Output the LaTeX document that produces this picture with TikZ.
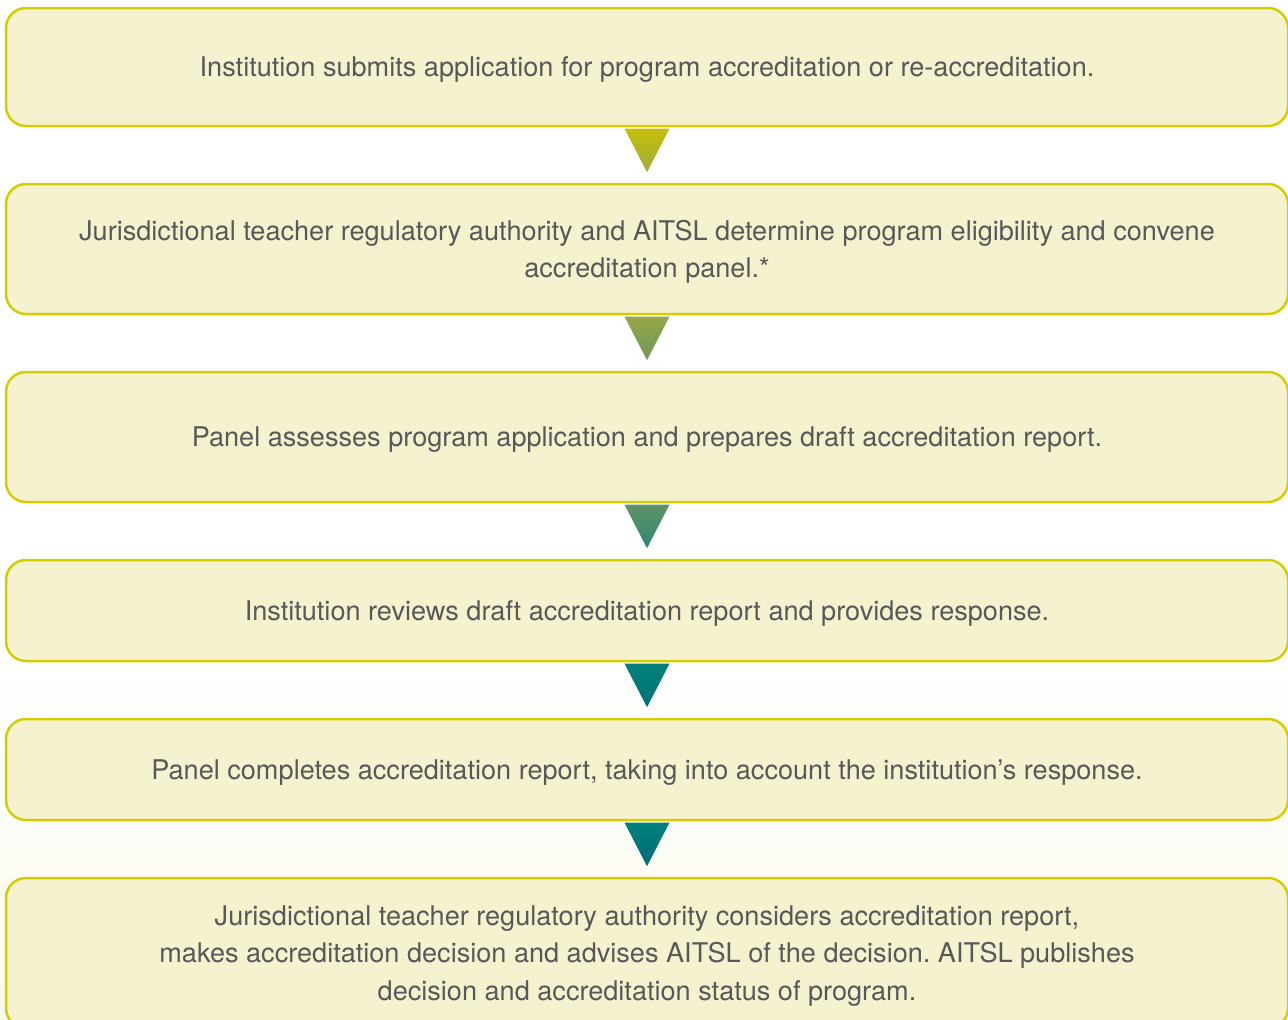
\documentclass[tikz,border=0pt]{standalone}
\usepackage{fontspec}
\setmainfont{TeX Gyre Heros}
\usetikzlibrary{positioning,calc}

\definecolor{boxedge}{RGB}{214,205,0}
\definecolor{boxfill}{RGB}{245,242,208}
\definecolor{boxtext}{RGB}{88,88,88}
\definecolor{bgfade}{RGB}{250,250,238}
\definecolor{triAtop}{RGB}{197,190,10}
\definecolor{triAbot}{RGB}{160,172,58}
\definecolor{triBtop}{RGB}{150,165,70}
\definecolor{triBbot}{RGB}{110,155,90}
\definecolor{triCtop}{RGB}{95,148,105}
\definecolor{triCbot}{RGB}{45,135,112}
\definecolor{triDtop}{RGB}{0,128,122}
\definecolor{triDbot}{RGB}{0,114,122}
\definecolor{triEtop}{RGB}{0,128,122}
\definecolor{triEbot}{RGB}{0,108,122}

\begin{document}
\frenchspacing
\begin{tikzpicture}[x=1pt,y=-1pt]
\useasboundingbox (0,0) rectangle (1288,1020);
\clip (0,0) rectangle (1288,1020);
\shade[top color=white,bottom color=bgfade] (0,640) rectangle (1288,1020);

\begin{scope}[every node/.style={draw=boxedge,fill=boxfill,line width=2.5pt,
              rounded corners=20pt,minimum width=1282pt,inner sep=0pt,text depth=0pt,
              text=boxtext,align=center,font=\fontsize{27.1}{37.5}\selectfont}]
    \node[minimum height=118pt] (b1) at (647,67) {Institution submits application for program accreditation or re-accreditation.};
    \node[minimum height=130pt] (b2) at (647,249) {Jurisdictional teacher regulatory authority and AITSL determine program eligibility and convene\\accreditation panel.*};
    \node[minimum height=130pt] (b3) at (647,437) {Panel assesses program application and prepares draft accreditation report.};
    \node[minimum height=101pt] (b4) at (647,610.5) {Institution reviews draft accreditation report and provides response.};
    \node[minimum height=101pt] (b5) at (647,769.5) {Panel completes accreditation report, taking into account the institution’s response.};
    \node[minimum height=150pt] (b6) at (647,953) {Jurisdictional teacher regulatory authority considers accreditation report,\\makes accreditation decision and advises AITSL of the decision. AITSL publishes\\decision and accreditation status of program.};
\end{scope}

% arrow heads between the steps
\foreach \u/\v/\ca/\cb in {b1/b2/triAtop/triAbot, b2/b3/triBtop/triBbot,
                          b3/b4/triCtop/triCbot, b4/b5/triDtop/triDbot,
                          b5/b6/triEtop/triEbot}
    \shade[top color=\ca,bottom color=\cb]
        ($(\u.south)+(-22.5,1.3)$) -- ($(\u.south)+(22.5,1.3)$)
        -- ($(\u.south)!0.81!(\v.north)$) -- cycle;
\end{tikzpicture}
\end{document}
